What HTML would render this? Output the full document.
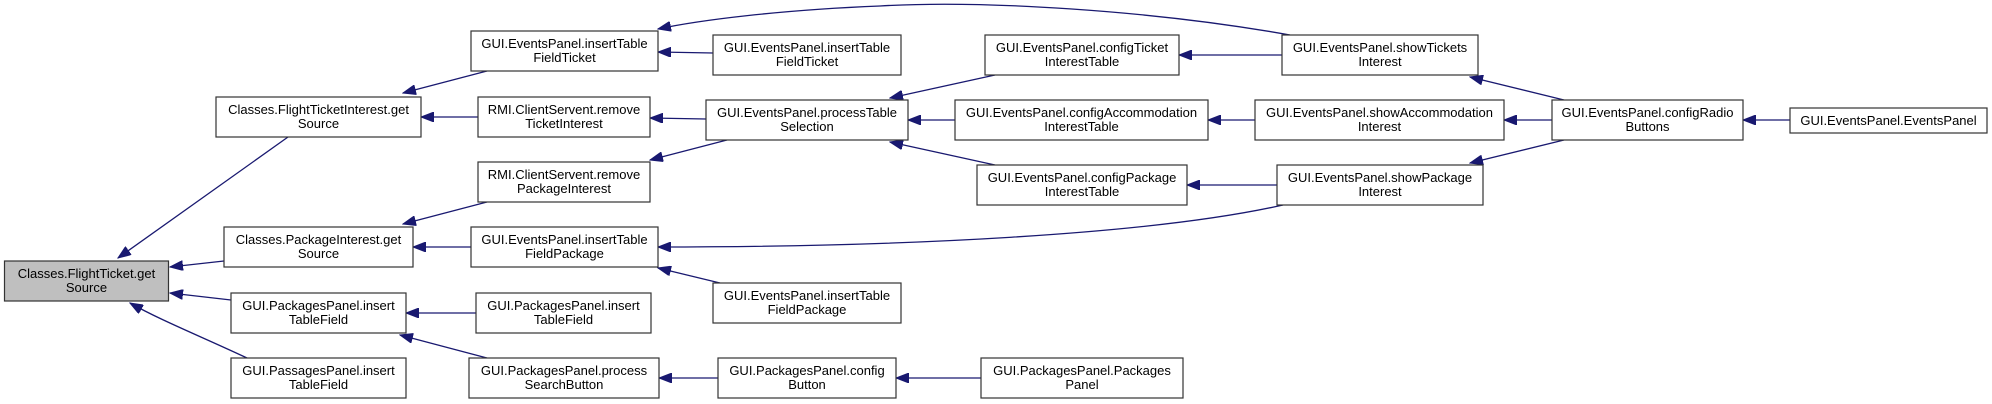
<!DOCTYPE html>
<html><head><meta charset="utf-8"><style>
html,body{margin:0;padding:0;background:#fff;}
svg{display:block;}
text{font-family:"Liberation Sans",sans-serif;font-size:13px;fill:#000;}
</style></head><body>
<svg width="1992" height="404" viewBox="0 0 1992 404" xmlns="http://www.w3.org/2000/svg">
<defs>
<marker id="a" markerUnits="userSpaceOnUse" markerWidth="14" markerHeight="10" refX="13" refY="5" orient="auto">
<path d="M0,0 L13,5 L0,10 Z" fill="#191970" stroke="#191970"/>
</marker>
</defs>
<g fill="none" stroke="#191970" stroke-width="1.3" marker-end="url(#a)">
<path d="M288,137 L118,258"/>
<path d="M224,261 L170,267"/>
<path d="M231,300 L170,293"/>
<path d="M247,358 C200,336 160,320 130,303"/>
<path d="M487,71 L403,93"/>
<path d="M478,117 L421,117"/>
<path d="M487,202 L403,224"/>
<path d="M471,247 L413,247"/>
<path d="M476,313 L406,313"/>
<path d="M487,358 L400,335"/>
<path d="M713,53 L658,52"/>
<path d="M1290,35 C1150,10 980,0 880,6 C780,10 700,20 658,29"/>
<path d="M706,119 L650,118"/>
<path d="M727,140 L650,160"/>
<path d="M1283,205 C1150,235 900,247 658,247"/>
<path d="M720,283 L658,268"/>
<path d="M718,378 L659,378"/>
<path d="M995,75 L890,98"/>
<path d="M955,120 L908,120"/>
<path d="M995,165 L890,142"/>
<path d="M981,378 L896,378"/>
<path d="M1282,55 L1179,55"/>
<path d="M1255,120 L1208,120"/>
<path d="M1277,185 L1187,185"/>
<path d="M1564,100 L1470,77"/>
<path d="M1552,120 L1504,120"/>
<path d="M1564,140 L1470,163"/>
<path d="M1790,120 L1743,120"/>
</g>
<g stroke="#333" stroke-width="1.2">
<rect x="4.5" y="261" width="164" height="40" fill="#bfbfbf"/>
<rect x="216" y="97" width="205" height="40" fill="#fff"/>
<rect x="224" y="227" width="189" height="40" fill="#fff"/>
<rect x="231" y="293" width="175" height="40" fill="#fff"/>
<rect x="231" y="358" width="175" height="40" fill="#fff"/>
<rect x="471" y="31" width="187" height="40" fill="#fff"/>
<rect x="478" y="97" width="172" height="40" fill="#fff"/>
<rect x="478" y="162" width="172" height="40" fill="#fff"/>
<rect x="471" y="227" width="187" height="40" fill="#fff"/>
<rect x="476" y="293" width="175" height="40" fill="#fff"/>
<rect x="469" y="358" width="190" height="40" fill="#fff"/>
<rect x="713" y="35" width="188" height="40" fill="#fff"/>
<rect x="706" y="100" width="202" height="40" fill="#fff"/>
<rect x="713" y="283" width="188" height="40" fill="#fff"/>
<rect x="718" y="358" width="178" height="40" fill="#fff"/>
<rect x="985" y="35" width="194" height="40" fill="#fff"/>
<rect x="955" y="100" width="253" height="40" fill="#fff"/>
<rect x="977" y="165" width="210" height="40" fill="#fff"/>
<rect x="981" y="358" width="202" height="40" fill="#fff"/>
<rect x="1282" y="35" width="196" height="40" fill="#fff"/>
<rect x="1255" y="100" width="249" height="40" fill="#fff"/>
<rect x="1277" y="165" width="206" height="40" fill="#fff"/>
<rect x="1552" y="100" width="191" height="40" fill="#fff"/>
<rect x="1790" y="108" width="197" height="25" fill="#fff"/>
</g>
<g text-anchor="middle">
<text x="86.5" y="278">Classes.FlightTicket.get</text><text x="86.5" y="292">Source</text>
<text x="318.5" y="114">Classes.FlightTicketInterest.get</text><text x="318.5" y="128">Source</text>
<text x="318.5" y="244">Classes.PackageInterest.get</text><text x="318.5" y="258">Source</text>
<text x="318.5" y="310">GUI.PackagesPanel.insert</text><text x="318.5" y="324">TableField</text>
<text x="318.5" y="375">GUI.PassagesPanel.insert</text><text x="318.5" y="389">TableField</text>
<text x="564.5" y="48">GUI.EventsPanel.insertTable</text><text x="564.5" y="62">FieldTicket</text>
<text x="564" y="114">RMI.ClientServent.remove</text><text x="564" y="128">TicketInterest</text>
<text x="564" y="179">RMI.ClientServent.remove</text><text x="564" y="193">PackageInterest</text>
<text x="564.5" y="244">GUI.EventsPanel.insertTable</text><text x="564.5" y="258">FieldPackage</text>
<text x="563.5" y="310">GUI.PackagesPanel.insert</text><text x="563.5" y="324">TableField</text>
<text x="564" y="375">GUI.PackagesPanel.process</text><text x="564" y="389">SearchButton</text>
<text x="807" y="52">GUI.EventsPanel.insertTable</text><text x="807" y="66">FieldTicket</text>
<text x="807" y="117">GUI.EventsPanel.processTable</text><text x="807" y="131">Selection</text>
<text x="807" y="300">GUI.EventsPanel.insertTable</text><text x="807" y="314">FieldPackage</text>
<text x="807" y="375">GUI.PackagesPanel.config</text><text x="807" y="389">Button</text>
<text x="1082" y="52">GUI.EventsPanel.configTicket</text><text x="1082" y="66">InterestTable</text>
<text x="1081.5" y="117">GUI.EventsPanel.configAccommodation</text><text x="1081.5" y="131">InterestTable</text>
<text x="1082" y="182">GUI.EventsPanel.configPackage</text><text x="1082" y="196">InterestTable</text>
<text x="1082" y="375">GUI.PackagesPanel.Packages</text><text x="1082" y="389">Panel</text>
<text x="1380" y="52">GUI.EventsPanel.showTickets</text><text x="1380" y="66">Interest</text>
<text x="1379.5" y="117">GUI.EventsPanel.showAccommodation</text><text x="1379.5" y="131">Interest</text>
<text x="1380" y="182">GUI.EventsPanel.showPackage</text><text x="1380" y="196">Interest</text>
<text x="1647.5" y="117">GUI.EventsPanel.configRadio</text><text x="1647.5" y="131">Buttons</text>
<text x="1888.5" y="125">GUI.EventsPanel.EventsPanel</text>
</g>
</svg>
</body></html>
